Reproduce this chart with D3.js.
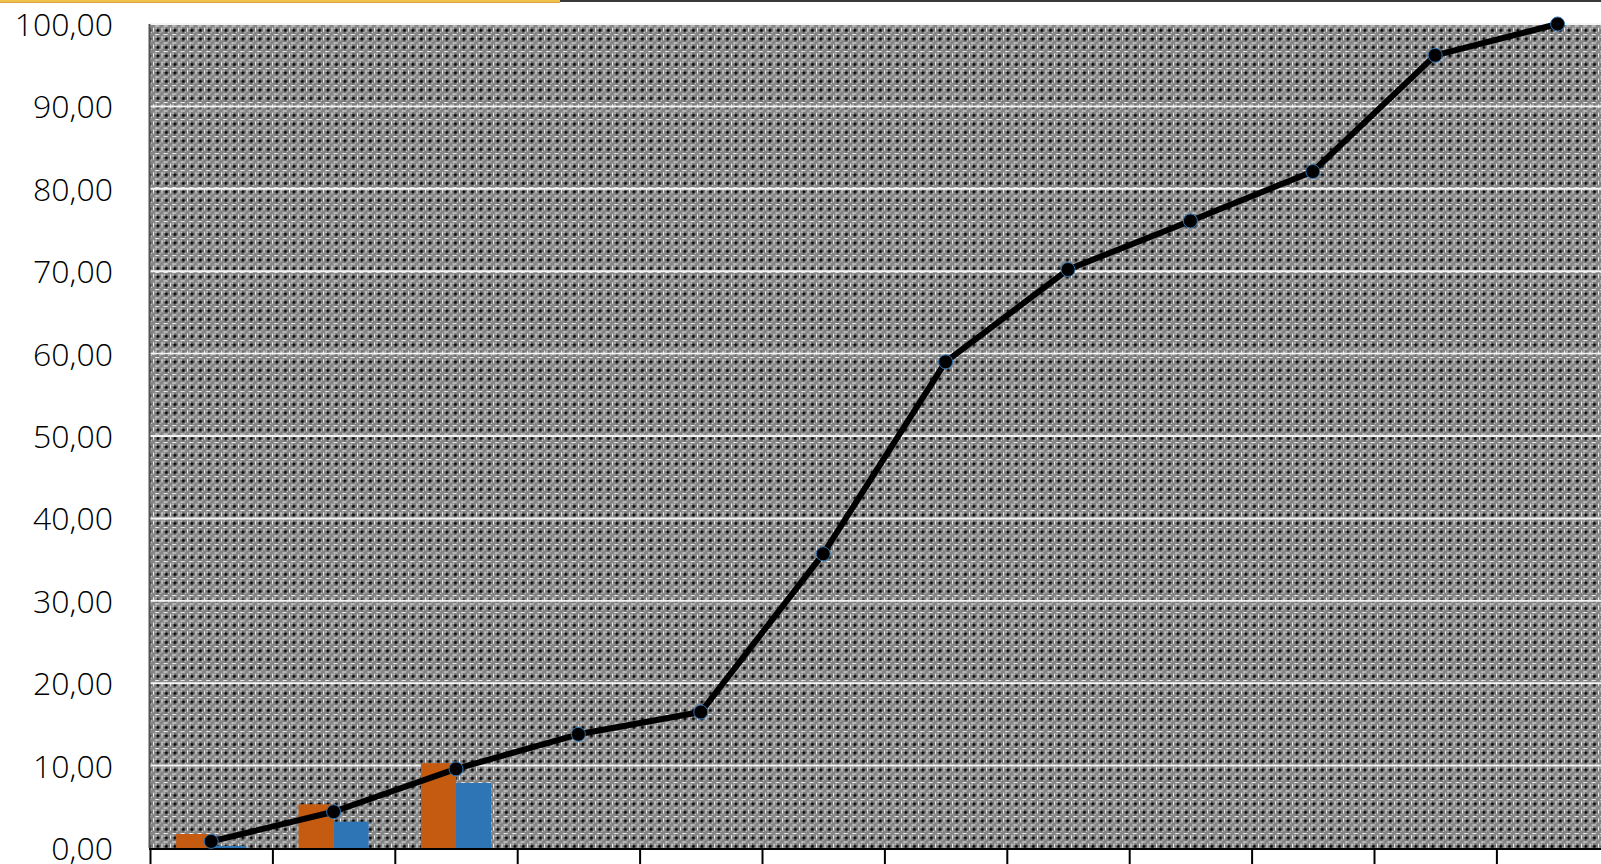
<!DOCTYPE html>
<html>
<head>
<meta charset="utf-8">
<script src="https://cdn.jsdelivr.net/npm/d3@7"></script>
<style>
	html, body { margin: 0; padding: 0; background: #fff; overflow: hidden; }
	svg { display: block; }
	.tick text { font-family: "Open Sans", sans-serif; fill: #000; }
</style>
</head>
<body>
<svg id="chart" width="1601" height="864"></svg>
<script>
	/**
	 * Chart Data
	 */
	let categories = ["1", "2", "3", "4", "5", "6", "7", "8", "9", "10", "11", "12"];
	let seriesA = [1.7, 5.3, 10.3];
	let seriesB = [0.25, 3.2, 7.9];
	let cumulative = [0.8, 4.4, 9.6, 13.8, 16.5, 35.7, 59.0, 70.2, 76.1, 82.1, 96.2, 100.0];
	let yTicks = [0, 10, 20, 30, 40, 50, 60, 70, 80, 90, 100];

	/**
	 * Default Properties
	 */
	let width = 1601;
	let plotLeft = 150;
	let band = 122.4;
	let plotTop = 24;
	let plotBottom = 848;
	let colors = ["#C55A11", "#2E75B6"];

	let svg = d3.select("#chart");

	// Comma decimal formatter
	let locale = d3.formatLocale({ decimal: ",", thousands: ".", grouping: [3], currency: ["", ""] });
	let fmt = locale.format(".2f");

	// Scales
	let x = d3.scaleBand()
		.domain(categories)
		.range([plotLeft, plotLeft + band * categories.length]);

	let xEdges = d3.scaleLinear()
		.domain([0, categories.length])
		.range([plotLeft, plotLeft + band * categories.length]);

	let y = d3.scaleLinear()
		.domain([0, 100])
		.range([plotBottom, plotTop]);

	let xSub = d3.scaleBand()
		.domain(["a", "b"])
		.range([0, 70]);

	// Background pattern (dotted checker look)
	let t = 8.5;
	let defs = svg.append("defs");
	let pat = defs.append("pattern")
		.attr("id", "checker")
		.attr("patternUnits", "userSpaceOnUse")
		.attr("width", t)
		.attr("height", t);
	pat.append("rect").attr("width", t).attr("height", t).attr("fill", "#858585");
	// fine mid-gray cross
	pat.append("rect").attr("x", 0).attr("y", 4.25).attr("width", t).attr("height", 0.8).attr("fill", "#5c5c5c");
	pat.append("rect").attr("x", 4.25).attr("y", 0).attr("width", 0.8).attr("height", t).attr("fill", "#5c5c5c");
	// white short bars between dots
	pat.append("rect").attr("x", 0).attr("y", 2.2).attr("width", 1.1).attr("height", 4).attr("fill", "#f2f2f2");
	pat.append("rect").attr("x", 2.2).attr("y", 0).attr("width", 4).attr("height", 1.1).attr("fill", "#f2f2f2");
	// white corners
	pat.append("rect").attr("x", 2.4).attr("y", 2.4).attr("width", 1.2).attr("height", 1.2).attr("fill", "#ffffff");
	pat.append("rect").attr("x", 6.4).attr("y", 6.4).attr("width", 1.2).attr("height", 1.2).attr("fill", "#d0d0d0");
	// black dot
	pat.append("rect").attr("x", 3.6).attr("y", 3.6).attr("width", 2.6).attr("height", 2.6).attr("fill", "#000");

	// Top border strip
	svg.append("rect").attr("x", 0).attr("y", 0).attr("width", 560).attr("height", 3).attr("fill", "#F2C14E");
	svg.append("rect").attr("x", 0).attr("y", 2).attr("width", 560).attr("height", 1).attr("fill", "#d9a23a");
	svg.append("rect").attr("x", 560).attr("y", 0).attr("width", width - 560).attr("height", 2).attr("fill", "#3a3a3a");

	// Plot area
	svg.append("rect")
		.attr("x", plotLeft)
		.attr("y", plotTop)
		.attr("width", width - plotLeft)
		.attr("height", plotBottom - plotTop)
		.attr("fill", "url(#checker)");

	// Gridlines
	svg.append("g")
		.selectAll("line")
		.data(yTicks.filter(function(d) { return d > 0; }))
		.enter()
		.append("line")
		.attr("x1", plotLeft)
		.attr("x2", width)
		.attr("y1", function(d) { return y(d); })
		.attr("y2", function(d) { return y(d); })
		.attr("stroke", "#f4f4f4")
		.attr("stroke-width", 2);

	// Y axis labels
	let yAxis = svg.append("g")
		.attr("transform", "translate(" + (plotLeft - 37) + ",0)")
		.call(d3.axisLeft(y).tickValues(yTicks).tickFormat(fmt).tickSize(0).tickPadding(0));
	yAxis.select(".domain").remove();
	yAxis.selectAll("text")
		.attr("font-size", 32)
		.attr("font-weight", 300)
		.attr("fill", "#000")
		.attr("font-family", "Open Sans, sans-serif")
		.attr("dy", "0.36em");

	// Left axis line
	svg.append("line")
		.attr("x1", plotLeft - 0.5)
		.attr("x2", plotLeft - 0.5)
		.attr("y1", plotTop)
		.attr("y2", plotBottom)
		.attr("stroke", "#555")
		.attr("stroke-width", 2);

	// Bars
	let barGroups = svg.append("g")
		.selectAll("g")
		.data(seriesA.map(function(d, i) { return { key: categories[i], values: [{ k: "a", v: d }, { k: "b", v: seriesB[i] }] }; }))
		.enter()
		.append("g")
		.attr("transform", function(d) { return "translate(" + (x(d.key) + (x.bandwidth() - 70) / 2) + ",0)"; });

	barGroups.selectAll("rect")
		.data(function(d) { return d.values; })
		.enter()
		.append("rect")
		.attr("x", function(d) { return xSub(d.k); })
		.attr("width", xSub.bandwidth())
		.attr("y", function(d) { return y(d.v); })
		.attr("height", function(d) { return y(0) - y(d.v); })
		.attr("fill", function(d, i) { return colors[i]; });

	// X axis
	let xAxis = svg.append("g")
		.attr("transform", "translate(0," + plotBottom + ")")
		.call(d3.axisBottom(xEdges).tickValues(d3.range(0, categories.length + 1)).tickSize(20).tickFormat(""));
	xAxis.select(".domain").remove();
	xAxis.selectAll("line").attr("stroke", "#000").attr("stroke-width", 2);
	svg.append("line")
		.attr("x1", plotLeft - 1)
		.attr("x2", width)
		.attr("y1", plotBottom + 1)
		.attr("y2", plotBottom + 1)
		.attr("stroke", "#000")
		.attr("stroke-width", 2);

	// Line
	let line = d3.line()
		.x(function(d, i) { return x(categories[i]) + x.bandwidth() / 2; })
		.y(function(d) { return y(d); });

	svg.append("path")
		.datum(cumulative)
		.attr("d", line)
		.attr("fill", "none")
		.attr("stroke", "#000")
		.attr("stroke-width", 6)
		.attr("stroke-linejoin", "round");

	svg.append("g")
		.selectAll("circle")
		.data(cumulative)
		.enter()
		.append("circle")
		.attr("cx", function(d, i) { return x(categories[i]) + x.bandwidth() / 2; })
		.attr("cy", function(d) { return y(d); })
		.attr("r", 7)
		.attr("fill", "#000")
		.attr("stroke", "#2E75B6")
		.attr("stroke-width", 1);
</script>
</body>
</html>
